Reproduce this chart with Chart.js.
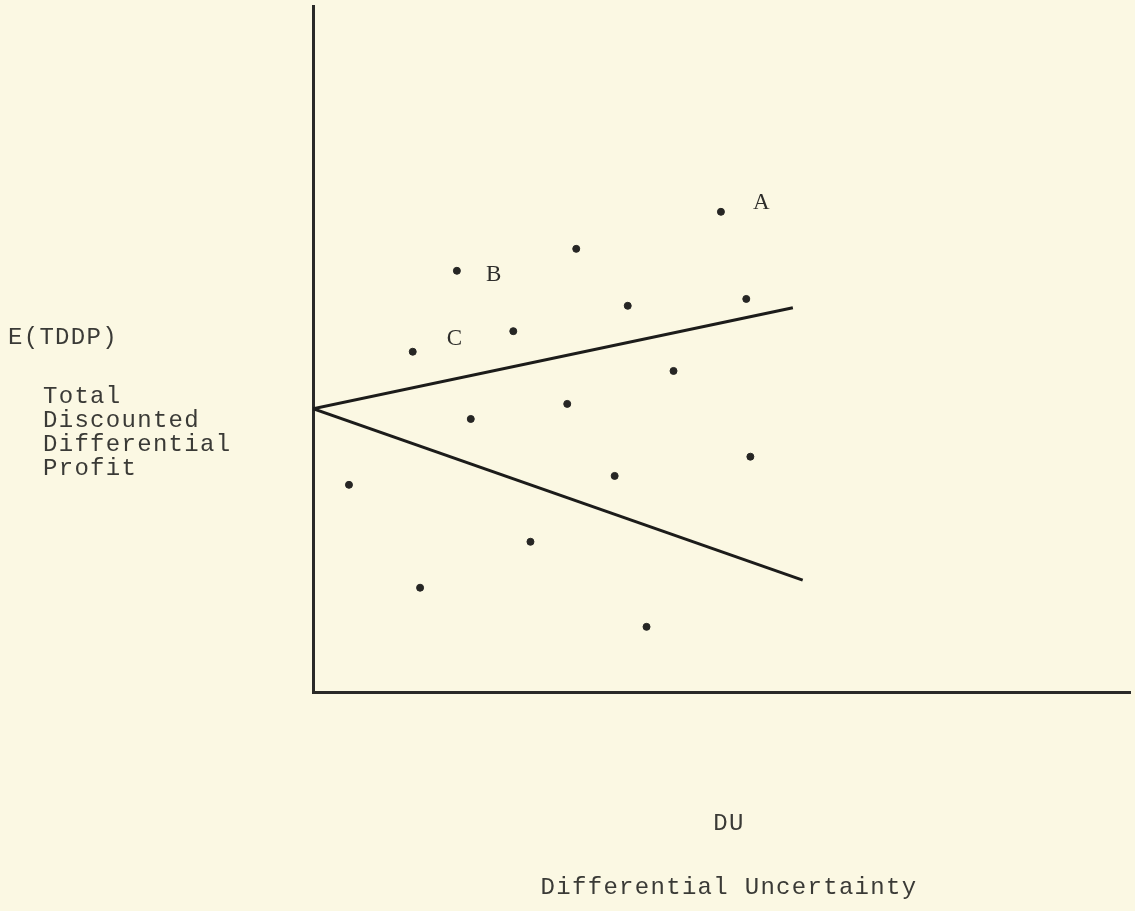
<!DOCTYPE html>
<html>
<head>
<meta charset="utf-8">
<script src="https://cdn.jsdelivr.net/npm/chart.js@4"></script>
<style>
  body { margin: 0; background: #fbf8e3; }
  #wrap { width: 1135px; height: 911px; }
</style>
</head>
<body>
<div id="wrap"><canvas id="duChart" width="1135" height="911"></canvas></div>
<script>
// scatter of projects, DU on x, E(TDDP) on y (arbitrary units 0-100)
var pointX = [49.9, 32.2, 17.6, 38.5, 53.0, 24.5, 12.2, 44.1, 31.1, 19.3, 4.4, 36.9, 53.5, 26.6, 13.1, 40.8];
var pointY = [70.0, 64.6, 61.4, 56.3, 57.3, 52.6, 49.6, 46.8, 42.0, 39.8, 30.2, 31.5, 34.3, 21.9, 15.2, 9.5];
// labelled points: index into the arrays above
var labelNames = ["A", "B", "C"];
var labelIndex = [0, 2, 6];
// the two boundary lines fanning out from the y axis
var upperLineX = [0, 58.7];
var upperLineY = [41.3, 56.0];
var lowerLineX = [0, 59.9];
var lowerLineY = [41.3, 16.3];

var yTitleLines = ["Total", "Discounted", "Differential", "Profit"];
var ink = "#262624";
var mono = "'Liberation Mono', 'DejaVu Sans Mono', monospace";

function toXY(xs, ys) {
  var out = [];
  for (var i = 0; i < xs.length; i++) out.push({ x: xs[i], y: ys[i] });
  return out;
}

// labels A, B, C and the axis captions
var textPlugin = {
  id: "textPlugin",
  afterDatasetsDraw: function(chart) {
    var ctx = chart.ctx;
    var xs = chart.scales.x, ys = chart.scales.y;
    ctx.save();
    ctx.fillStyle = "#2e2e2b";
    ctx.textBaseline = "middle";
    ctx.font = "23px 'Liberation Serif', serif";
    var offs = [[32, -9], [29, 4], [34, -13]];
    for (var i = 0; i < labelNames.length; i++) {
      var k = labelIndex[i];
      ctx.fillText(labelNames[i],
        xs.getPixelForValue(pointX[k]) + offs[i][0],
        ys.getPixelForValue(pointY[k]) + offs[i][1]);
    }
    ctx.font = "24px " + mono;
    ctx.letterSpacing = "1.3px";
    ctx.fillStyle = "#3a3a36";
    ctx.textAlign = "left";
    ctx.fillText("E(TDDP)", 8, 338);
    for (var j = 0; j < yTitleLines.length; j++) {
      ctx.fillText(yTitleLines[j], 43, 397 + j * 24);
    }
    ctx.textAlign = "center";
    ctx.fillText("DU", 729, 824);
    ctx.fillText("Differential Uncertainty", 729, 888);
    ctx.restore();
  }
};

var ctx = document.getElementById("duChart").getContext("2d");
var duChart = new Chart(ctx, {
  type: "scatter",
  data: {
    datasets: [{
      label: "projects",
      data: toXY(pointX, pointY),
      backgroundColor: ink,
      borderColor: ink,
      pointRadius: 3.5,
      pointHoverRadius: 3.5
    }, {
      label: "upper",
      data: toXY(upperLineX, upperLineY),
      showLine: true,
      borderColor: "#1c1c1a",
      borderWidth: 3,
      pointRadius: 0
    }, {
      label: "lower",
      data: toXY(lowerLineX, lowerLineY),
      showLine: true,
      borderColor: "#1c1c1a",
      borderWidth: 3,
      pointRadius: 0
    }]
  },
  options: {
    responsive: false,
    animation: false,
    layout: { padding: { left: 313, top: 6, right: -4, bottom: 219 } },
    plugins: { legend: { display: false }, tooltip: { enabled: false } },
    scales: {
      x: {
        type: "linear", min: 0, max: 100,
        ticks: { display: false },
        grid: { display: false, drawTicks: false },
        border: { display: true, color: "#2a2a28", width: 3 },
        afterFit: function(s) { s.height = 0; }
      },
      y: {
        type: "linear", min: 0, max: 100,
        ticks: { display: false },
        grid: { display: false, drawTicks: false },
        border: { display: true, color: "#2a2a28", width: 3 },
        afterFit: function(s) { s.width = 0; }
      }
    }
  },
  plugins: [textPlugin]
});
</script>
</body>
</html>
